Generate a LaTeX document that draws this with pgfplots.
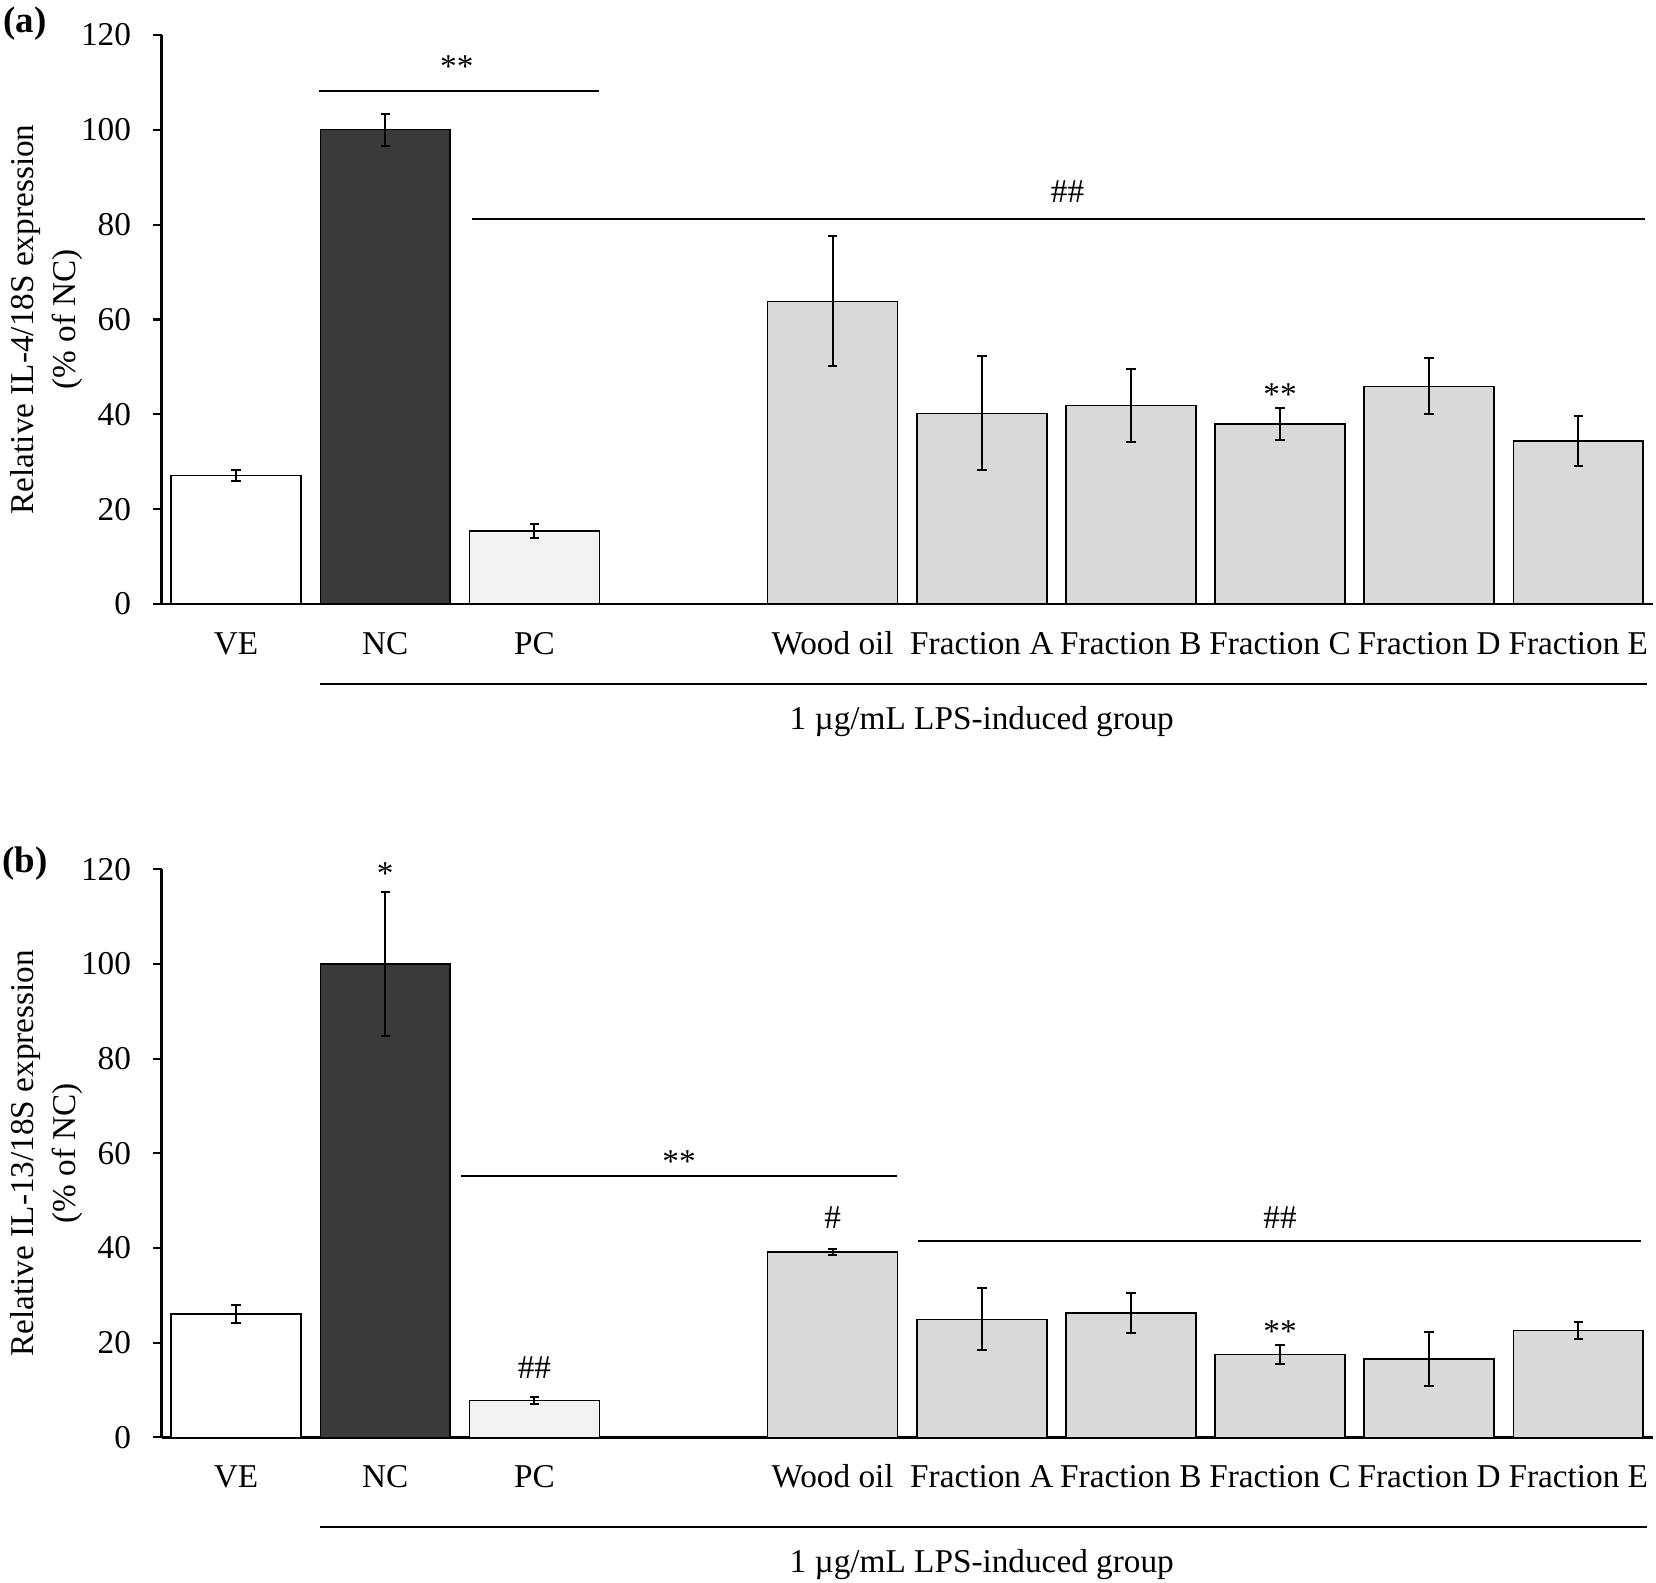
\documentclass[border=0pt]{standalone}
\usepackage{fontspec}
\setmainfont{Liberation Serif}
\usepackage{pgfplots}
\pgfplotsset{compat=1.18}
\definecolor{ncdark}{HTML}{3A3A3A}
\definecolor{pclight}{HTML}{F2F2F2}
\definecolor{fracgray}{HTML}{D9D9D9}
\tikzset{sig/.style={line width=0.7pt, black}}
\pgfplotsset{
  panel/.style={
    scale only axis, width=564.8pt,
    xmin=-0.5, xmax=9.5, ymin=0, ymax=120,
    axis lines*=left,
    axis line style={line width=0.9pt, black},
    clip=false,
    ytick={0,20,...,120},
    xtick={0,1,2,4,5,6,7,8,9},
    xticklabels={VE,NC,PC,Wood oil,Fraction A,Fraction B,Fraction C,Fraction D,Fraction E},
    x tick style={draw=none},
    y tick style={line width=0.8pt, black},
    tick align=outside,
    major tick length=3.2pt,
    xticklabel style={anchor=base, yshift=-15.8pt, inner sep=0pt},
    yticklabel style={anchor=east, inner sep=0pt, xshift=-8.2pt},
    /pgf/number format/assume math mode=true,
    every axis y label/.style={at={(axis description cs:-0.0774,0.5)}, rotate=90, anchor=center, align=center},
  },
  bar/.style={ybar, bar width=49.2pt, bar shift=0pt, draw=black, line width=0.6pt,
    error bars/.cd, y dir=both, y explicit,
    error bar style={line width=0.75pt, black},
    error mark options={rotate=90, line width=0.75pt, black, mark size=1.8pt},
    /pgfplots/.cd},
}
\begin{document}
\fontsize{12.6}{15.8}\selectfont
\begin{tikzpicture}
\useasboundingbox (0,0) rectangle (627.2pt,599.2pt);
\node[font=\fontsize{14}{16}\selectfont\bfseries] at (9.4pt,590.4pt) {(a)};
\node[font=\fontsize{14}{16}\selectfont\bfseries] at (9.4pt,272pt) {(b)};
% ---------------- panel (a)
\begin{axis}[panel, at={(61.2pt,370.4pt)}, height=215.6pt,
  ylabel={Relative IL-4/18S expression\\(\% of NC)}]
\addplot[fill=white, bar] coordinates {(0,27.1) +- (0,1.1)};
\addplot[fill=ncdark, bar] coordinates {(1,100) +- (0,3.4)};
\addplot[fill=pclight, bar] coordinates {(2,15.4) +- (0,1.4)};
\addplot[fill=fracgray, bar] coordinates {
  (4,63.8) +- (0,13.7)
  (5,40.2) +- (0,12.0)
  (6,41.9) +- (0,7.7)
  (7,38.0) +- (0,3.4)
  (8,45.9) +- (0,5.9)
  (9,34.4) +- (0,5.3)
};
\draw[sig] (axis cs:0.557,108.2) -- (axis cs:2.435,108.2);
\node[anchor=base] at (axis cs:1.48,111.0) {**};
\draw[sig] (axis cs:1.58,81.1) -- (axis cs:9.45,81.1);
\node[anchor=base] at (axis cs:5.575,84.7) {\#\#};
\node[anchor=base] at (axis cs:7,41.8) {**};
\draw[sig] (axis cs:0.56,-16.92) -- (axis cs:9.46,-16.92);
\node[anchor=base] at (axis cs:5,-26.4) {1 µg/mL LPS-induced group};
\end{axis}
% ---------------- panel (b)
\begin{axis}[panel, at={(61.2pt,54.8pt)}, height=215.2pt,
  ylabel={Relative IL-13/18S expression\\(\% of NC)}]
\addplot[fill=white, bar] coordinates {(0,26.1) +- (0,1.85)};
\addplot[fill=ncdark, bar] coordinates {(1,100) +- (0,15.2)};
\addplot[fill=pclight, bar] coordinates {(2,7.8) +- (0,0.75)};
\addplot[fill=fracgray, bar] coordinates {
  (4,39.2) +- (0,0.6)
  (5,24.9) +- (0,6.55)
  (6,26.3) +- (0,4.2)
  (7,17.5) +- (0,2.1)
  (8,16.6) +- (0,5.75)
  (9,22.6) +- (0,1.8)
};
\node[anchor=base] at (axis cs:1,116.7) {*};
\draw[sig] (axis cs:1.51,55.2) -- (axis cs:4.43,55.2);
\node[anchor=base] at (axis cs:2.97,56.0) {**};
\node[anchor=base] at (axis cs:4,44.1) {\#};
\node[anchor=base] at (axis cs:2,12.4) {\#\#};
\draw[sig] (axis cs:4.57,41.4) -- (axis cs:9.42,41.4);
\node[anchor=base] at (axis cs:7,44.2) {\#\#};
\node[anchor=base] at (axis cs:7,20.1) {**};
\draw[sig] (axis cs:0.56,-18.85) -- (axis cs:9.46,-18.85);
\node[anchor=base] at (axis cs:5,-28.55) {1 µg/mL LPS-induced group};
\end{axis}
\end{tikzpicture}
\end{document}
